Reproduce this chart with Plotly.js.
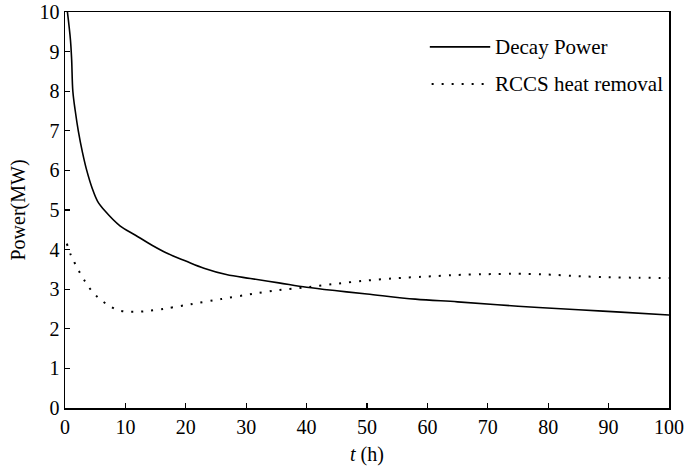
<!DOCTYPE html>
<html>
<head>
<meta charset="utf-8">
<script src="https://cdn.plot.ly/plotly-3.0.1.min.js"></script>
<style>html,body{margin:0;padding:0;background:#fff;}#chart{width:686px;height:469px;}</style>
</head>
<body>
<div id="chart"></div>
<script>
// Decay Power (MW) vs t (h)
const decayT = [0.4, 0.9, 1.1, 1.3, 1.7, 2.2, 2.9, 3.6, 4.5, 5.4, 6.6, 9.1, 11.6, 14.4, 17, 20, 23, 26.7, 30.7, 35.4, 40, 45, 50, 58, 65, 75, 85, 92, 100];
const decayP = [10.0, 9.3, 8.8, 8.0, 7.5, 7.0, 6.45, 6.0, 5.55, 5.22, 4.98, 4.6, 4.37, 4.11, 3.9, 3.71, 3.53, 3.37, 3.27, 3.16, 3.05, 2.96, 2.88, 2.75, 2.68, 2.57, 2.48, 2.42, 2.35];
// RCCS heat removal (MW) vs t (h)
const rccsT = [0.3, 1.0, 2.3, 3.3, 4.3, 5.6, 7.1, 8.7, 10.4, 12, 13.7, 17, 20.8, 25.8, 31, 35, 40, 45, 50, 55, 60, 65, 70, 75, 80, 85, 90, 95, 100];
const rccsP = [4.15, 3.85, 3.46, 3.2, 2.98, 2.77, 2.6, 2.47, 2.43, 2.43, 2.45, 2.52, 2.62, 2.75, 2.88, 2.97, 3.05, 3.14, 3.22, 3.28, 3.32, 3.36, 3.38, 3.39, 3.37, 3.33, 3.30, 3.29, 3.28];
const xTicks = [0, 10, 20, 30, 40, 50, 60, 70, 80, 90, 100];
const yTicks = [0, 1, 2, 3, 4, 5, 6, 7, 8, 9, 10];
const seriesNames = ['Decay Power', 'RCCS heat removal'];

const font = {family: 'Liberation Serif, Times New Roman, serif', color: '#000'};

const traces = [
  {x: decayT, y: decayP, mode: 'lines', name: seriesNames[0], line: {color: '#000', width: 1.6, shape: 'spline', smoothing: 1}, showlegend: false},
  {x: rccsT, y: rccsP, mode: 'lines', name: seriesNames[1], line: {color: '#000', width: 2, dash: '2px,8px', shape: 'spline', smoothing: 0.6}, showlegend: false}
];

const axisCommon = {
  showline: true, linecolor: '#000', linewidth: 1.5, mirror: true,
  ticks: 'inside', ticklen: 5, tickwidth: 1.2, tickcolor: '#000',
  showgrid: false, zeroline: false,
  tickfont: Object.assign({size: 20}, font)
};

const layout = {
  width: 686, height: 469,
  margin: {l: 65, r: 17, t: 12, b: 61},
  paper_bgcolor: '#fff', plot_bgcolor: '#fff',
  font: font,
  xaxis: Object.assign({}, axisCommon, {
    range: [0, 100], tickmode: 'array', tickvals: xTicks, ticktext: xTicks.map(String),
    title: {text: '<i>t</i> (h)', font: Object.assign({size: 20}, font), standoff: 10}
  }),
  yaxis: Object.assign({}, axisCommon, {
    range: [0, 10], tickmode: 'array', tickvals: yTicks, ticktext: yTicks.map(String),
    title: {text: 'Power(MW)', font: Object.assign({size: 20}, font), standoff: 8}
  }),
  shapes: [
    {type: 'line', xref: 'paper', yref: 'paper', x0: 0.604, x1: 0.704, y0: 0.912, y1: 0.912, line: {color: '#000', width: 1.6}},
    {type: 'line', xref: 'paper', yref: 'paper', x0: 0.607, x1: 0.704, y0: 0.818, y1: 0.818, line: {color: '#000', width: 2, dash: '2px,8px'}}
  ],
  annotations: [
    {xref: 'paper', yref: 'paper', x: 0.709, y: 0.912, xanchor: 'left', yanchor: 'middle', text: seriesNames[0], showarrow: false, font: Object.assign({size: 21}, font)},
    {xref: 'paper', yref: 'paper', x: 0.709, y: 0.818, xanchor: 'left', yanchor: 'middle', text: seriesNames[1], showarrow: false, font: Object.assign({size: 21}, font)}
  ],
  showlegend: false
};

Plotly.newPlot('chart', traces, layout, {staticPlot: true, displayModeBar: false});
</script>
</body>
</html>
